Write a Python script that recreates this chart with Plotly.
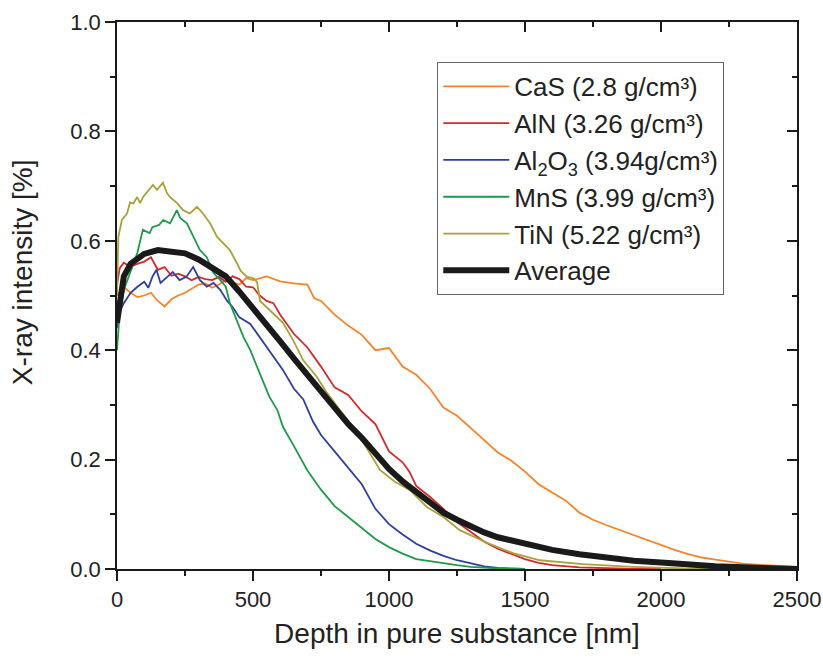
import plotly.graph_objects as go

# ---------------- data ----------------
cas_x = [0, 25, 50, 75, 100, 125, 150, 175, 200, 225, 250, 275, 300, 325, 350, 375, 400, 425, 450, 475,
         500, 550, 600, 650, 700, 725, 750, 800, 850, 900, 950, 1000, 1050, 1100, 1150, 1200, 1250, 1300,
         1350, 1400, 1450, 1500, 1550, 1600, 1650, 1700, 1750, 1800, 1850, 1900, 1950, 2000, 2050, 2100,
         2150, 2200, 2250, 2300, 2350, 2400, 2450, 2500]
cas_y = [0.50, 0.515, 0.505, 0.497, 0.50, 0.505, 0.49, 0.48, 0.493, 0.50, 0.505, 0.512, 0.52, 0.522, 0.514,
         0.52, 0.528, 0.524, 0.52, 0.532, 0.528, 0.535, 0.526, 0.522, 0.52, 0.495, 0.49, 0.465, 0.445, 0.428,
         0.40, 0.404, 0.37, 0.355, 0.33, 0.295, 0.28, 0.258, 0.236, 0.213, 0.198, 0.178, 0.155, 0.14, 0.125,
         0.103, 0.09, 0.08, 0.071, 0.061, 0.052, 0.044, 0.035, 0.027, 0.021, 0.017, 0.013, 0.010, 0.008,
         0.006, 0.005, 0.004]

aln_x = [0, 10, 25, 50, 75, 100, 125, 150, 175, 200, 225, 250, 275, 300, 325, 350, 375, 400, 425, 450, 475,
         500, 525, 550, 575, 600, 650, 700, 750, 800, 850, 900, 950, 1000, 1050, 1075, 1100, 1150, 1200,
         1250, 1300, 1350, 1400, 1450, 1500, 1550, 1600, 1700, 1800, 1900, 2000]
aln_y = [0.52, 0.55, 0.56, 0.552, 0.558, 0.562, 0.57, 0.547, 0.552, 0.536, 0.54, 0.535, 0.528, 0.534, 0.53,
         0.528, 0.534, 0.525, 0.535, 0.53, 0.516, 0.515, 0.50, 0.49, 0.486, 0.465, 0.43, 0.405, 0.37, 0.332,
         0.318, 0.288, 0.265, 0.215, 0.195, 0.178, 0.152, 0.132, 0.11, 0.086, 0.068, 0.05, 0.037, 0.028,
         0.018, 0.011, 0.007, 0.003, 0.001, 0.0, 0.0]

al2o3_x = [0, 10, 25, 50, 75, 100, 115, 130, 145, 160, 185, 205, 230, 255, 280, 305, 330, 355, 380, 405, 425,
           450, 490, 525, 560, 610, 650, 685, 720, 750, 800, 850, 900, 950, 1000, 1050, 1100, 1150, 1200,
           1250, 1300, 1350, 1400, 1500]
al2o3_y = [0.44, 0.47, 0.486, 0.505, 0.516, 0.525, 0.514, 0.534, 0.547, 0.523, 0.534, 0.543, 0.528, 0.534,
           0.552, 0.528, 0.516, 0.523, 0.51, 0.49, 0.479, 0.46, 0.448, 0.424, 0.40, 0.364, 0.33, 0.31, 0.27,
           0.245, 0.215, 0.185, 0.155, 0.11, 0.082, 0.063, 0.046, 0.034, 0.024, 0.016, 0.010, 0.005, 0.002,
           0.0]

mns_x = [0, 10, 25, 40, 60, 75, 95, 120, 130, 155, 170, 195, 220, 232, 257, 280, 305, 330, 355, 380, 400,
         415, 440, 465, 490, 525, 560, 590, 610, 650, 700, 750, 800, 850, 900, 950, 1000, 1050, 1100, 1150,
         1200, 1250, 1300, 1400, 1500]
mns_y = [0.40, 0.47, 0.51, 0.53, 0.56, 0.578, 0.62, 0.614, 0.625, 0.629, 0.638, 0.632, 0.656, 0.642, 0.632,
         0.607, 0.583, 0.57, 0.541, 0.528, 0.516, 0.486, 0.455, 0.424, 0.40, 0.358, 0.315, 0.29, 0.26, 0.225,
         0.18, 0.145, 0.115, 0.095, 0.075, 0.055, 0.04, 0.028, 0.018, 0.014, 0.011, 0.007, 0.004, 0.001, 0.0]

tin_x = [0, 5, 18, 37, 48, 60, 74, 85, 96, 110, 132, 147, 169, 184, 195, 221, 243, 268, 294, 316, 342, 368,
         390, 415, 441, 455, 478, 500, 515, 526, 562, 610, 647, 684, 735, 772, 820, 868, 900, 967, 1020,
         1077, 1140, 1200, 1260, 1360, 1456, 1555, 1713, 1897, 2081, 2300]
tin_y = [0.50, 0.607, 0.638, 0.65, 0.67, 0.668, 0.68, 0.669, 0.68, 0.689, 0.702, 0.693, 0.706, 0.687, 0.68,
         0.669, 0.656, 0.65, 0.662, 0.65, 0.632, 0.607, 0.596, 0.583, 0.559, 0.545, 0.534, 0.532, 0.525, 0.49,
         0.473, 0.45, 0.419, 0.382, 0.351, 0.322, 0.29, 0.26, 0.236, 0.181, 0.16, 0.144, 0.113, 0.095, 0.071,
         0.048, 0.029, 0.016, 0.009, 0.004, 0.001, 0.0]

avg_x = [0, 25, 50, 75, 100, 150, 200, 250, 300, 350, 400, 450, 500, 550, 600, 650, 700, 750, 800, 850, 900,
         950, 1000, 1050, 1100, 1150, 1200, 1250, 1300, 1350, 1400, 1450, 1500, 1600, 1700, 1800, 1900, 2000,
         2100, 2200, 2300, 2400, 2500]
avg_y = [0.45, 0.535, 0.558, 0.568, 0.576, 0.583, 0.581, 0.577, 0.566, 0.55, 0.535, 0.507, 0.478, 0.447,
         0.416, 0.385, 0.355, 0.325, 0.295, 0.265, 0.24, 0.21, 0.183, 0.16, 0.14, 0.12, 0.103, 0.09, 0.078,
         0.067, 0.058, 0.052, 0.046, 0.035, 0.027, 0.020, 0.015, 0.012, 0.008, 0.005, 0.003, 0.001, 0.0]

names = ["CaS (2.8 g/cm³)", "AlN (3.26 g/cm³)", "Al<sub>2</sub>O<sub>3</sub> (3.94g/cm³)",
         "MnS (3.99 g/cm³)", "TiN (5.22 g/cm³)", "Average"]
x_ticks = [0, 500, 1000, 1500, 2000, 2500]
y_ticks = [0.0, 0.2, 0.4, 0.6, 0.8, 1.0]
x_title = "Depth in pure substance [nm]"
y_title = "X-ray intensity [%]"

# ---------------- figure ----------------
series = [(cas_x, cas_y), (aln_x, aln_y), (al2o3_x, al2o3_y), (mns_x, mns_y), (tin_x, tin_y), (avg_x, avg_y)]
colors = ["#F7842A", "#D22A2C", "#2E3F9E", "#1E9A4A", "#A9A23A", "#1A1A1A"]
widths = [1.8, 1.8, 1.8, 1.8, 1.8, 6]

FONT = "Arial, Liberation Sans, sans-serif"
fig = go.Figure()
for i, ((xs, ys), nm) in enumerate(zip(series, names)):
    fig.add_trace(go.Scatter(x=xs, y=ys, mode="lines", name=nm, legendgroup=str(i),
                             line=dict(color=colors[i], width=widths[i])))

# invisible carrier trace so that the mirrored (top / right) frame axes get drawn
fig.add_trace(go.Scatter(x=avg_x, y=avg_y, xaxis="x2", yaxis="y2", mode="lines", opacity=0,
                         showlegend=False, hoverinfo="skip", line=dict(width=0)))

axis_common = dict(showline=True, linecolor="#1a1a1a", linewidth=1.5, showgrid=False, zeroline=False,
                   tickcolor="#1a1a1a", tickwidth=1.5, ticklen=10, automargin=False)

fig.update_layout(
    width=823, height=658,
    margin=dict(l=117, r=26, t=22, b=89),
    paper_bgcolor="white", plot_bgcolor="white",
    font=dict(family=FONT, color="#222222", size=22),
    showlegend=True,
    legend=dict(x=0.471, y=0.927, xanchor="left", yanchor="top",
                bordercolor="#666666", borderwidth=1, bgcolor="white",
                font=dict(size=26, family=FONT, color="#222222"),
                traceorder="grouped", tracegroupgap=0, itemwidth=66),
    xaxis=dict(range=[0, 2500], tickvals=x_ticks, ticks="outside",
               minor=dict(dtick=250, ticklen=5, tickcolor="#1a1a1a", tickwidth=1.5, ticks="outside"),
               title=dict(text=x_title, font=dict(size=28), standoff=12),
               tickfont=dict(size=22), **axis_common),
    yaxis=dict(range=[0, 1.0], tickvals=y_ticks, tickformat=".1f", ticks="outside",
               minor=dict(dtick=0.1, ticklen=5, tickcolor="#1a1a1a", tickwidth=1.5, ticks="outside"),
               tickfont=dict(size=22), **axis_common),
    xaxis2=dict(overlaying="x", side="top", anchor="y", range=[0, 2500], tickvals=x_ticks, ticks="inside",
                showticklabels=False,
                minor=dict(dtick=250, ticklen=5, tickcolor="#1a1a1a", tickwidth=1.5, ticks="inside"),
                **axis_common),
    yaxis2=dict(overlaying="y", side="right", anchor="x", range=[0, 1.0], tickvals=y_ticks, ticks="inside",
                showticklabels=False,
                minor=dict(dtick=0.1, ticklen=5, tickcolor="#1a1a1a", tickwidth=1.5, ticks="inside"),
                **axis_common),
    annotations=[dict(text=y_title, textangle=-90, xref="paper", yref="paper",
                      x=-0.138, y=0.543, xanchor="center", yanchor="middle", showarrow=False,
                      font=dict(size=28, family=FONT, color="#222222"))],
)

fig.write_html("out.html")
